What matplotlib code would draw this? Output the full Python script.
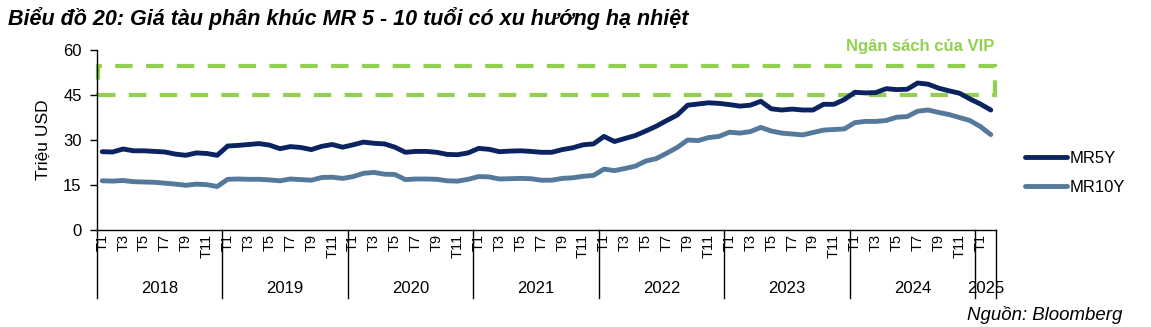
"""
Biểu đồ 20: giá tàu phân khúc MR 5 - 10 tuổi (nguồn Bloomberg).
"""

import matplotlib
matplotlib.use("Agg")
import matplotlib.pyplot as plt
from matplotlib.patches import Rectangle
from matplotlib.lines import Line2D

plt.rcParams["font.family"] = ["Liberation Sans", "DejaVu Sans"]

# Dữ liệu theo tháng, từ T1/2018 đến T2/2025 (triệu USD)
years = [2018, 2019, 2020, 2021, 2022, 2023, 2024, 2025]
months_in_year = [12, 12, 12, 12, 12, 12, 12, 2]

mr5y = [
    26.1, 26.0, 27.0, 26.4, 26.4, 26.2, 26.0, 25.3, 24.9, 25.7, 25.5, 24.9,
    28.0, 28.2, 28.5, 28.8, 28.3, 27.1, 27.8, 27.5, 26.8, 27.9, 28.5, 27.6,
    28.4, 29.3, 28.9, 28.7, 27.6, 25.9, 26.2, 26.2, 25.9, 25.2, 25.1, 25.7,
    27.2, 26.9, 26.1, 26.3, 26.4, 26.2, 25.9, 25.9, 26.8, 27.4, 28.4, 28.7,
    31.2, 29.5, 30.5, 31.5, 33.0, 34.6, 36.5, 38.3, 41.6, 42.0, 42.4, 42.2,
    41.8, 41.3, 41.6, 42.9, 40.4, 40.0, 40.3, 40.0, 40.0, 41.9, 41.9, 43.5,
    45.9, 45.7, 45.8, 47.1, 46.8, 46.9, 49.0, 48.6, 47.3, 46.4, 45.6, 43.7,
    42.0, 40.0,
]
mr10y = [
    16.4, 16.3, 16.5, 16.1, 16.0, 15.9, 15.6, 15.3, 14.9, 15.3, 15.1, 14.5,
    16.9, 17.0, 16.9, 16.9, 16.7, 16.4, 17.0, 16.8, 16.6, 17.5, 17.6, 17.2,
    17.8, 18.9, 19.2, 18.6, 18.5, 16.8, 17.0, 17.0, 16.9, 16.4, 16.3, 16.9,
    17.8, 17.7, 17.0, 17.1, 17.2, 17.1, 16.6, 16.6, 17.2, 17.4, 17.9, 18.2,
    20.3, 19.8, 20.5, 21.3, 23.0, 23.8, 25.6, 27.5, 30.0, 29.8, 30.8, 31.2,
    32.6, 32.3, 32.8, 34.2, 33.0, 32.3, 32.0, 31.7, 32.5, 33.3, 33.5, 33.7,
    35.8, 36.2, 36.2, 36.5, 37.6, 37.8, 39.6, 40.0, 39.2, 38.5, 37.5, 36.5,
    34.5, 31.8,
]

# Vùng ngân sách của VIP
budget_low = 45
budget_high = 54.6

y_ticks = [0, 15, 30, 45, 60]

color_5y = "#0c2362"
color_10y = "#54799a"
color_budget = "#92d050"

# Nhãn tháng: chỉ hiện tháng lẻ, tháng cuối (T2/2025) để trống
month_labels = []
for y, n in zip(years, months_in_year):
    for m in range(1, n + 1):
        month_labels.append(f"T{m}" if m % 2 == 1 else "")

n = len(mr5y)
x = list(range(n))

fig = plt.figure(figsize=(11.51, 3.27), dpi=100)
ax = fig.add_axes([97 / 1151, 97 / 327, 899 / 1151, 180 / 327])

ax.plot(x, mr5y, color=color_5y, lw=3.5, solid_capstyle="round", label="MR5Y", zorder=3)
ax.plot(x, mr10y, color=color_10y, lw=3.5, solid_capstyle="round", label="MR10Y", zorder=3)

ax.add_patch(Rectangle((-0.45, budget_low), n - 0.15, budget_high - budget_low,
                       fill=False, edgecolor=color_budget, lw=3,
                       linestyle=(0, (4.2, 3.2)), zorder=2, clip_on=False))
ax.text(n - 0.7, 61.3, "Ngân sách của VIP", color=color_budget, fontsize=12,
        fontweight="bold", ha="right", va="center", clip_on=False)

ax.set_xlim(-0.5, n - 0.5)
ax.set_ylim(0, 60)
ax.set_yticks(y_ticks)
ax.tick_params(axis="y", labelsize=12, length=5, width=1, pad=6)
ax.set_ylabel("Triệu USD", fontsize=12.5, labelpad=9)

ax.spines["top"].set_visible(False)
ax.spines["right"].set_visible(False)
ax.spines["left"].set_linewidth(1)
ax.spines["bottom"].set_linewidth(1)

ticks = [i for i, lab in enumerate(month_labels) if lab]
ax.set_xticks(ticks)
ax.set_xticklabels([month_labels[i] for i in ticks], rotation=90, fontsize=10.5)
ax.tick_params(axis="x", length=0, pad=3)

# Đường phân cách năm và nhãn năm dưới trục
trans = ax.get_xaxis_transform()
start = 0
for y, cnt in zip(years, months_in_year):
    ax.plot([start - 0.5, start - 0.5], [0, -0.378], transform=trans,
            color="black", lw=1, clip_on=False)
    ax.text(start - 0.5 + cnt / 2, -0.325, str(y), transform=trans,
            ha="center", va="center", fontsize=12)
    start += cnt
ax.plot([start - 0.5, start - 0.5], [0, -0.378], transform=trans,
        color="black", lw=1, clip_on=False)

handles = [Line2D([], [], color=color_5y, lw=3.5, solid_capstyle="round"),
           Line2D([], [], color=color_10y, lw=3.5, solid_capstyle="round")]
fig.legend(handles, ["MR5Y", "MR10Y"], loc="center left",
           bbox_to_anchor=(1010 / 1151, 1 - 173 / 327), frameon=False,
           fontsize=12, handlelength=2.5, handletextpad=0.15, labelspacing=0.85)

fig.text(8 / 1151, 1 - 18 / 327,
         "Biểu đồ 20: Giá tàu phân khúc MR 5 - 10 tuổi có xu hướng hạ nhiệt",
         fontsize=15.5, fontweight="bold", fontstyle="italic",
         ha="left", va="center")
fig.text(1122 / 1151, 1 - 315 / 327, "Nguồn: Bloomberg", fontsize=13.4,
         fontstyle="italic", ha="right", va="center")

fig.savefig("out.png", dpi=100)
